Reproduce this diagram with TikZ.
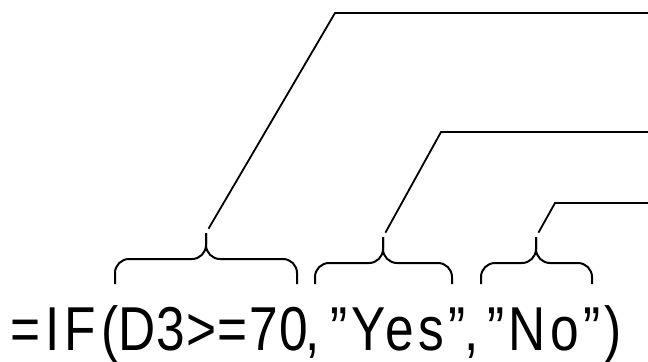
\documentclass[tikz,border=0pt]{standalone}
\usepackage{fontspec}
\newfontfamily\formulafont[FakeStretch=0.83, LetterSpace=2]{Liberation Sans}
\newfontfamily\stringfont[FakeStretch=0.83, LetterSpace=7]{Liberation Sans}

\begin{document}
\begin{tikzpicture}[x=0.5pt, y=0.5pt,
    formula/.style={anchor=base west, inner sep=0pt,
        font=\formulafont\fontsize{31}{36}\selectfont},
    string/.style={formula, font=\stringfont\fontsize{31}{36}\selectfont},
    argbrace/.style={line width=1pt, rounded corners=7pt},
    leader/.style={line width=0.9pt, shorten <=2.5pt}]

    \useasboundingbox (0,0) rectangle (648,361);

    % ============================================================
    % FORMULA
    % ============================================================
    \node[formula] (fn) at (10,11) {=\kern2.5pt I\kern2.5pt F\kern2.5pt(};
    \node[formula] (test) at (118,11) {D3>=70};
    \node[formula] (comma1) at (305,11) {,};
    \node[string] (yes) at (330,11) {”Yes”};
    \node[formula] (comma2) at (464,11) {,};
    \node[string] (no) at (487,11) {”No”};
    \node[formula] (close) at (604,11) {)};

    % ============================================================
    % LOGICAL TEST
    % ============================================================
    \draw[argbrace] (115,77) |- (206,102) -- (206,128) coordinate (testtip);
    \draw[argbrace] (297,77) |- (206,102) -- (206,128);
    \coordinate (testbend) at (335,348);
    \coordinate (testend) at (648,348);
    \draw[leader] (testtip) -- (testbend) -- (testend);

    % ============================================================
    % VALUE IF TRUE
    % ============================================================
    \draw[argbrace] (315,77) |- (383,98) -- (383,124) coordinate (yestip);
    \draw[argbrace] (452,77) |- (383,98) -- (383,124);
    \coordinate (yesbend) at (441,229);
    \coordinate (yesend) at (648,229);
    \draw[leader] (yestip) -- (yesbend) -- (yesend);

    % ============================================================
    % VALUE IF FALSE
    % ============================================================
    \draw[argbrace] (481,77) |- (536,98) -- (536,124) coordinate (notip);
    \draw[argbrace] (592,77) |- (536,98) -- (536,124);
    \coordinate (nobend) at (555,158);
    \coordinate (noend) at (648,158);
    \draw[leader] (notip) -- (nobend) -- (noend);

\end{tikzpicture}
\end{document}
